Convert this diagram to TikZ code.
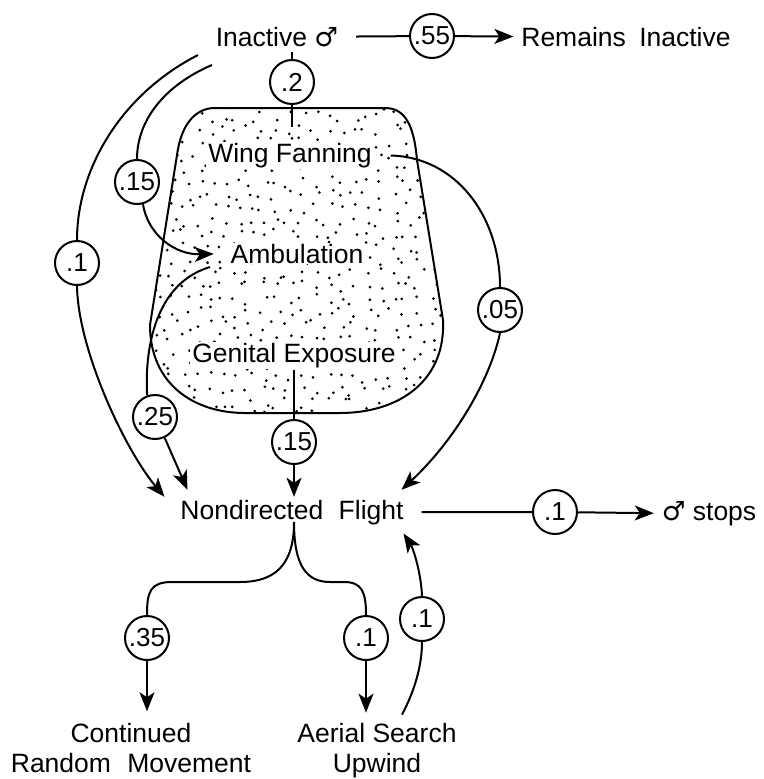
\documentclass[tikz,border=0pt]{standalone}
\usepackage{fontspec}
\setmainfont{Liberation Sans}
\newfontfamily\symf{DejaVu Sans}
\usetikzlibrary{arrows.meta,calc}
\begin{document}
\begin{tikzpicture}[x=1pt,y=-1pt,line width=2pt,
  lbl/.style={font=\fontsize{26.5}{30}\selectfont, inner xsep=7pt, inner ysep=2pt},
  inlbl/.style={font=\fontsize{26.5}{30}\selectfont, fill=white, inner xsep=2pt, inner ysep=1pt},
  prob/.style={circle, draw, fill=white, minimum size=44pt, inner sep=0pt, font=\fontsize{26}{26}\selectfont},
  arr/.style={-{Stealth[length=19pt,width=15pt,inset=5pt]}},
]
\fill[white] (0,0) rectangle (763,779);
\useasboundingbox (0,0) rectangle (763,779);

% stippled region
\begin{scope}
\clip (215,108) -- (385,108) .. controls (405,108) and (414,125) .. (417,160) -- (443,320) .. controls (446,380) and (400,413) .. (340,413) -- (245,413) .. controls (195,413) and (150,385) .. (150,325) -- (177,155) .. controls (181,125) and (195,108) .. (215,108) -- cycle;
\pgfmathsetseed{42}
\foreach \gx in {0,...,23}{
  \foreach \gy in {0,...,24}{
    \pgfmathsetmacro\px{146+13*\gx+11*rnd-5.5}
    \pgfmathsetmacro\py{104+13*\gy+11*rnd-5.5}
    \fill (\px,\py) circle (1.5pt);
  }
}
\end{scope}
\draw (215,108) -- (385,108) .. controls (405,108) and (414,125) .. (417,160) -- (443,320) .. controls (446,380) and (400,413) .. (340,413) -- (245,413) .. controls (195,413) and (150,385) .. (150,325) -- (177,155) .. controls (181,125) and (195,108) .. (215,108) -- cycle;

% text nodes
\node[lbl, anchor=base] (inact) at (277,46) {Inactive {\symf ♂}};
\node[lbl, anchor=base] (remain) at (626,46) {Remains\hspace{6pt} Inactive};
\node[inlbl, anchor=base] (wing) at (290,162) {Wing Fanning};
\node[inlbl, anchor=base] (amb) at (297,263) {Ambulation};
\node[inlbl, anchor=base] (gen) at (294,362) {Genital Exposure};
\node[lbl, anchor=base] (flight) at (292,519) {Nondirected\hspace{8pt} Flight};
\node[lbl, anchor=base] (stops) at (709,520) {{\symf ♂} stops};
\node[lbl, align=center, inner sep=0pt] (cont) at (131,748) {Continued\\Random\hspace{9pt} Movement};
\node[lbl, align=center, inner sep=0pt] (aerial) at (377,751) {Aerial Search\\Upwind};

% probability circles
\node[prob] (c55) at (432,36) {.55};
\node[prob] (c2) at (292,82) {.2};
\node[prob] (c15a) at (137,182) {.15};
\node[prob] (c1a) at (77,263) {.1};
\node[prob] (c05) at (500,310) {.05};
\node[prob] (c25) at (155,417) {.25};
\node[prob] (c15b) at (294,442) {.15};
\node[prob] (c1b) at (555,512) {.1};
\node[prob] (c35) at (147,638) {.35};
\node[prob] (c1c) at (366,638) {.1};
\node[prob] (c1d) at (422,619) {.1};

% connectors
\draw[shorten <=10pt] (inact.east) -- (c55);
\draw[arr] (c55) -- (remain.west);

\draw (c2.north) -- ($(c2.north |- inact.base)+(0,6)$);
\draw (c2.south) -- ($(c2.south |- wing.north)+(0,-14)$);

\draw ($(inact.base)+(-79,9)$) .. controls (120,95) and (77,170) .. (c1a.north);
\draw[arr] (c1a.south) .. controls (78,350) and (125,450) .. ($(flight.north west)+(-8,0)$);

\draw ($(inact.base)+(-65,19)$) .. controls (165,85) and (137,120) .. (c15a.north);
\draw[arr, shorten >=14pt] (c15a.-75) .. controls (148,235) and (175,255) .. (amb.west);

\draw ($(amb.base)+(-87,4)$) .. controls (150,285) and (145,360) .. (c25.110);
\draw[arr] (c25.-65) -- ($(flight.north west)+(15,-7)$);

\draw[shorten <=16pt] (wing.east) .. controls (455,157) and (500,215) .. (c05.north);
\draw[arr] (c05.south) .. controls (490,380) and (455,440) .. ($(flight.north east)+(-10,-7)$);

\draw (gen.south) -- (c15b.north);
\draw[arr] (c15b.south) -- (c15b.south |- flight.north);

\draw[shorten <=10pt] (flight.east) -- (c1b);
\draw[arr] (c1b) -- (stops.west);

\coordinate (fork) at ($(flight.base -| c15b)+(0,3)$);
\draw (fork) .. controls (294,565) and (275,582) .. (240,582) -- (172,582) .. controls (150,582) and (147,592) .. (c35.north);
\draw (fork) .. controls (294,565) and (306,582) .. (330,582) -- (344,582) .. controls (362,582) and (366,592) .. (c1c.north);
\draw[arr] (c35) -- ($(c35 |- cont.north)+(0,-11)$);
\draw[arr] (c1c) -- ($(c1c |- aerial.north)+(0,-10)$);

\draw ($(aerial.north)+(25,-8)$) .. controls (415,690) and (422,665) .. (c1d.south);
\draw[arr] (c1d.north) .. controls (421,572) and (413,548) .. ($(flight.south east)+(-8,6)$);
\end{tikzpicture}
\end{document}
